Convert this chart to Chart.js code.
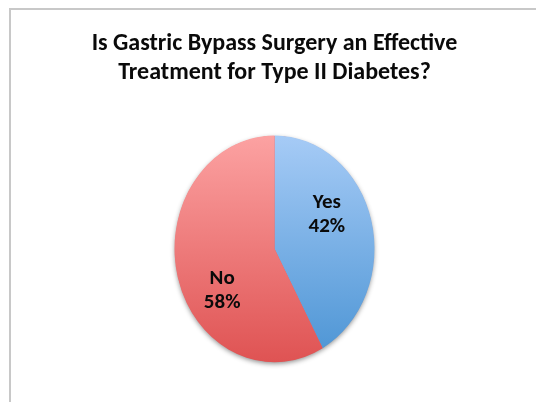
<!DOCTYPE html>
<html><head><meta charset="utf-8">
<script src="https://cdn.jsdelivr.net/npm/chart.js@4/dist/chart.umd.min.js"></script>
<style>
html,body{margin:0;padding:0;background:#fff;overflow:hidden;}
#frame{position:absolute;left:9px;top:8px;width:600px;height:500px;border-left:2px solid #c8c8c8;border-top:2px solid #c8c8c8;}
#wrap{position:absolute;left:0;top:0;width:536px;height:402px;}
</style></head><body>
<div id="frame"></div>
<div id="wrap"><canvas id="c"></canvas></div>
<script>
const titleLines = ['Is Gastric Bypass Surgery an Effective', 'Treatment for Type II Diabetes?'];
const categories = ['Yes', 'No'];
const percents = [42, 58];
const gradTop = ['#a6cbf6', '#fca2a2'];
const gradBottom = ['#4b94d4', '#df5353'];

const FONT = 'Carlito, "Liberation Sans Narrow", Lato, sans-serif';
const STRETCH = 1.134;
const RADIUS = 100;
const LABEL_DIST = 0.62;
const LABEL_ROT = -18 * Math.PI / 180;

function centerOf(chart) {
  const a = chart.chartArea;
  return { x: (a.left + a.right) / 2, y: (a.top + a.bottom) / 2 };
}

const ellipsePlugin = {
  id: 'ellipse',
  beforeDatasetsDraw(chart) {
    const ctx = chart.ctx;
    const c = centerOf(chart);
    const r = chart.getDatasetMeta(0).data[0].outerRadius;
    ctx.save();
    ctx.translate(c.x, c.y);
    ctx.scale(1, STRETCH);
    ctx.translate(-c.x, -c.y);
    ctx.save();
    ctx.shadowColor = 'rgba(0,0,0,0.45)';
    ctx.shadowBlur = 5;
    ctx.shadowOffsetY = 2;
    ctx.beginPath();
    ctx.arc(c.x, c.y, r - 0.5, 0, Math.PI * 2);
    ctx.fillStyle = '#e06060';
    ctx.fill();
    ctx.restore();
  },
  afterDatasetsDraw(chart) {
    const ctx = chart.ctx;
    ctx.restore();
    const c = centerOf(chart);
    const meta = chart.getDatasetMeta(0);
    ctx.save();
    ctx.fillStyle = '#0a0a0a';
    ctx.font = 'bold 21px ' + FONT;
    ctx.textAlign = 'center';
    ctx.textBaseline = 'middle';
    meta.data.forEach((arc, i) => {
      const mid = (arc.startAngle + arc.endAngle) / 2 + LABEL_ROT;
      const rr = arc.outerRadius * LABEL_DIST;
      const x = c.x + Math.cos(mid) * rr;
      const y = c.y + Math.sin(mid) * rr * STRETCH;
      ctx.fillText(categories[i], x, y - 8);
      ctx.fillText(percents[i] + '%', x, y + 16);
    });
    ctx.restore();
  }
};

new Chart(document.getElementById('c'), {
  type: 'pie',
  data: {
    labels: categories,
    datasets: [{
      data: percents,
      radius: RADIUS,
      borderWidth: 0,
      backgroundColor: (ctx) => {
        const chart = ctx.chart;
        if (!chart.chartArea) return gradBottom[ctx.dataIndex];
        const c = centerOf(chart);
        const g = chart.ctx.createLinearGradient(0, c.y - RADIUS, 0, c.y + RADIUS);
        g.addColorStop(0, gradTop[ctx.dataIndex]);
        g.addColorStop(1, gradBottom[ctx.dataIndex]);
        return g;
      }
    }]
  },
  options: {
    responsive: true,
    maintainAspectRatio: false,
    animation: false,
    layout: { padding: { left: 13, right: 0, top: 0, bottom: 0 } },
    plugins: {
      legend: { display: false },
      tooltip: { enabled: false },
      title: {
        display: true,
        text: titleLines,
        color: '#0a0a0a',
        font: { family: FONT, size: 24, weight: 'bold', lineHeight: 1.2 },
        padding: { top: 30, bottom: 8 }
      }
    }
  },
  plugins: [ellipsePlugin]
});
</script>
</body></html>
